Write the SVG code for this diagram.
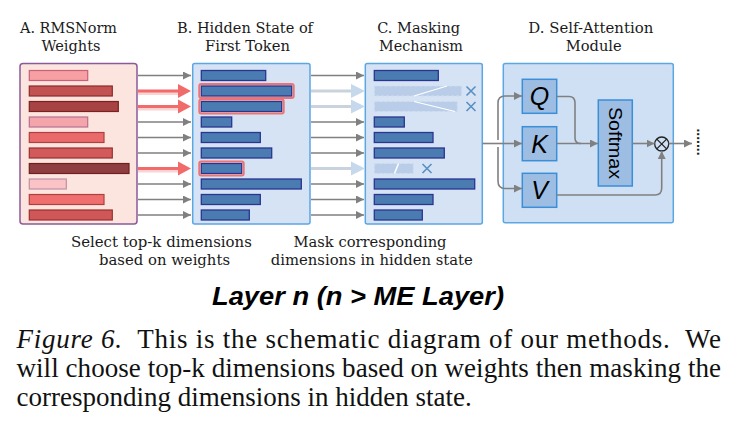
<svg xmlns="http://www.w3.org/2000/svg" width="735" height="430" viewBox="0 0 735 430">
<defs>
<style>
.hd{font-family:"DejaVu Serif","Liberation Serif",serif;font-size:15px;fill:#1a1a1a;text-anchor:middle}
.lb{font-family:"DejaVu Serif","Liberation Serif",serif;font-size:14px;fill:#1a1a1a;text-anchor:middle}
.cap{font-family:"Liberation Serif","Times New Roman",serif;font-size:27px;fill:#111}
.panel{fill:#d5e3f4;stroke:#5ba7e3;stroke-width:1.5}
.bb{fill:#4a7cb2;stroke:#2b3591;stroke-width:1.3}
.hl{fill:none;stroke:#f07272;stroke-width:2}
.ga{stroke:#808080;stroke-width:1.6;fill:none}
.ra{stroke:#f26b6b;stroke-width:3;fill:none}
.rs{stroke:#fbd3d3;stroke-width:4;fill:none}
.fa{stroke:#c9d3de;stroke-width:3;fill:none}
.mk{fill:#b9cde8;stroke:#d2def0;stroke-width:1;stroke-dasharray:3 2}
.x{stroke:#5b8fc2;stroke-width:1.6;fill:none}
.qkv{fill:#9dbde2;stroke:#3a8fd8;stroke-width:1.5}
.lt{font-family:"Liberation Sans",Arial,sans-serif;font-style:italic;font-size:25px;fill:#000;text-anchor:middle}
</style>
<marker id="ah" markerWidth="8" markerHeight="8" viewBox="0 0 8 8" refX="8" refY="4" orient="auto" markerUnits="userSpaceOnUse">
<path d="M0,0 L8,4 L0,8 z" fill="#808080"/>
</marker>
</defs>

<!-- headers -->
<g id="headers">
<text class="hd" x="68.5" y="33" textLength="97" lengthAdjust="spacingAndGlyphs">A. RMSNorm</text>
<text class="hd" x="71" y="50.5" textLength="59" lengthAdjust="spacingAndGlyphs">Weights</text>
<text class="hd" x="245" y="33" textLength="136" lengthAdjust="spacingAndGlyphs">B. Hidden State of</text>
<text class="hd" x="247.5" y="50.5" textLength="85" lengthAdjust="spacingAndGlyphs">First Token</text>
<text class="hd" x="418.7" y="33" textLength="83" lengthAdjust="spacingAndGlyphs">C. Masking</text>
<text class="hd" x="421" y="50.5" textLength="84" lengthAdjust="spacingAndGlyphs">Mechanism</text>
<text class="hd" x="590.8" y="33" textLength="125" lengthAdjust="spacingAndGlyphs">D. Self-Attention</text>
<text class="hd" x="593.7" y="50.5" textLength="56" lengthAdjust="spacingAndGlyphs">Module</text>
</g>

<!-- Panel A -->
<g id="panelA">
<rect x="20" y="63.5" width="117" height="160.5" rx="3" fill="#fbe5de" stroke="#8b5a9b" stroke-width="1.5"/>
<rect x="29.3" y="70.5" width="58.4" height="10" fill="#f6a0a4" stroke="#c8607a" stroke-width="1.2"/>
<rect x="29.3" y="86" width="83" height="10" fill="#c25353" stroke="#8e2a2a" stroke-width="1.2"/>
<rect x="29.3" y="101.5" width="89" height="10" fill="#a84343" stroke="#7a2020" stroke-width="1.2"/>
<rect x="29.3" y="117" width="58.4" height="10" fill="#f4a5ab" stroke="#b87090" stroke-width="1.2"/>
<rect x="29.3" y="132.5" width="74.7" height="10" fill="#e96a6a" stroke="#b04040" stroke-width="1.2"/>
<rect x="29.3" y="148" width="83" height="10" fill="#d25a5a" stroke="#9a3030" stroke-width="1.2"/>
<rect x="29.3" y="163.5" width="99.7" height="10" fill="#8e3e40" stroke="#6e2020" stroke-width="1.2"/>
<rect x="29.3" y="179" width="37" height="10" fill="#fbc3c6" stroke="#c090a8" stroke-width="1.2"/>
<rect x="29.3" y="194.5" width="74.7" height="10" fill="#ef6e6e" stroke="#b04040" stroke-width="1.2"/>
<rect x="29.3" y="210" width="83" height="10" fill="#cf5757" stroke="#9a3030" stroke-width="1.2"/>
</g>

<!-- Panel B -->
<g id="panelB">
<rect class="panel" x="192.7" y="63.5" width="117.3" height="160.5" rx="2"/>
<rect class="bb" x="201.3" y="70.5" width="64.4" height="10"/>
<rect class="bb" x="201.3" y="86" width="90.4" height="10"/>
<rect class="hl" x="199.3" y="84" width="94.4" height="14" rx="2"/>
<rect class="bb" x="201.3" y="101.5" width="80.4" height="10"/>
<rect class="hl" x="199.3" y="99.5" width="84.4" height="14" rx="2"/>
<rect class="bb" x="201.3" y="117" width="30.4" height="10"/>
<rect class="bb" x="201.3" y="132.5" width="59" height="10"/>
<rect class="bb" x="201.3" y="148" width="70.4" height="10"/>
<rect class="bb" x="201.3" y="163.5" width="40.4" height="10"/>
<rect class="hl" x="199.3" y="161.5" width="44.4" height="14" rx="2"/>
<rect class="bb" x="201.3" y="179" width="100" height="10"/>
<rect class="bb" x="201.3" y="194.5" width="59" height="10"/>
<rect class="bb" x="201.3" y="210" width="48" height="10"/>
</g>

<!-- Panel C -->
<g id="panelC">
<rect class="panel" x="365.3" y="63.5" width="117" height="160.5" rx="2"/>
<rect class="bb" x="374.3" y="70.5" width="64" height="10"/>
<rect class="mk" x="374.3" y="86" width="87.4" height="10"/>
<path d="M414,96 L447,86" stroke="#ffffff" stroke-width="1.2"/>
<rect class="mk" x="374.3" y="101.5" width="83" height="10"/>
<path d="M414,101.5 L455,111.5" stroke="#ffffff" stroke-width="1.2"/>
<rect class="bb" x="374.3" y="117" width="30" height="10"/>
<rect class="bb" x="374.3" y="132.5" width="58.7" height="10"/>
<rect class="bb" x="374.3" y="148" width="70" height="10"/>
<rect class="mk" x="374.3" y="163.5" width="39" height="10"/>
<path d="M394.5,173.5 L398.5,163.5" stroke="#ffffff" stroke-width="1.5"/>
<rect class="bb" x="374.3" y="179" width="100.4" height="10"/>
<rect class="bb" x="374.3" y="194.5" width="58.7" height="10"/>
<rect class="bb" x="374.3" y="210" width="48" height="10"/>
<path class="x" d="M466.5,86.5 L475.5,95.5 M475.5,86.5 L466.5,95.5"/>
<path class="x" d="M466.5,102 L475.5,111 M475.5,102 L466.5,111"/>
<path class="x" d="M422.5,164 L431.5,173 M431.5,164 L422.5,173"/>
</g>

<!-- Panel D -->
<g id="panelD">
<rect x="503.3" y="63.5" width="170" height="159.2" rx="2" fill="#cfe0f5" stroke="#5ba7e3" stroke-width="1.5"/>
</g>
<g id="Q">
<rect class="qkv" x="522.3" y="79.3" width="34.4" height="34"/>
<text class="lt" x="539.5" y="105">Q</text>
</g>
<g id="K">
<rect class="qkv" x="522.3" y="126.7" width="34.4" height="34"/>
<text class="lt" x="539.5" y="152.5">K</text>
</g>
<g id="V">
<rect class="qkv" x="522.3" y="173.3" width="34.4" height="34"/>
<text class="lt" x="539.5" y="199">V</text>
</g>
<g id="softmax">
<rect class="qkv" x="598.3" y="100" width="34" height="86"/>
<text transform="translate(609,143) rotate(90)" font-family="Liberation Sans, Arial, sans-serif" font-size="19" fill="#000" text-anchor="middle" textLength="72" lengthAdjust="spacingAndGlyphs">Softmax</text>
</g>
<g id="otimes">
<circle cx="661.7" cy="144" r="7" fill="none" stroke="#222" stroke-width="1.3"/>
<path d="M656.8,139.1 L666.6,148.9 M666.6,139.1 L656.8,148.9" stroke="#222" stroke-width="1.3"/>
</g>
<g id="ellipsis">
<text transform="translate(697,142) rotate(90)" font-family="Liberation Sans, Arial, sans-serif" font-size="14" font-weight="bold" fill="#222" text-anchor="middle">.......</text>
</g>

<!-- connectors -->
<g id="connectors">
<path class="ga" marker-end="url(#ah)" d="M138,75.5 H191"/>
<path class="ga" marker-end="url(#ah)" d="M138,122 H191"/>
<path class="ga" marker-end="url(#ah)" d="M138,137.5 H191"/>
<path class="ga" marker-end="url(#ah)" d="M138,153 H191"/>
<path class="ga" marker-end="url(#ah)" d="M138,184 H191"/>
<path class="ga" marker-end="url(#ah)" d="M138,199.5 H191"/>
<path class="ga" marker-end="url(#ah)" d="M138,215 H191"/>
<path class="rs" d="M138,93 H180"/>
<path class="rs" d="M138,108.5 H180"/>
<path class="rs" d="M138,170.5 H180"/>
<path class="ra" d="M138,91 H179"/>
<path class="ra" d="M138,106.5 H179"/>
<path class="ra" d="M138,168.5 H179"/>
<path d="M178,84 L191,91 L178,98 z" fill="#f26b6b"/>
<path d="M178,99.5 L191,106.5 L178,113.5 z" fill="#f26b6b"/>
<path d="M178,161.5 L191,168.5 L178,175.5 z" fill="#f26b6b"/>
<path class="ga" marker-end="url(#ah)" d="M311,75.5 H364"/>
<path class="ga" marker-end="url(#ah)" d="M311,122 H364"/>
<path class="ga" marker-end="url(#ah)" d="M311,137.5 H364"/>
<path class="ga" marker-end="url(#ah)" d="M311,153 H364"/>
<path class="ga" marker-end="url(#ah)" d="M311,184 H364"/>
<path class="ga" marker-end="url(#ah)" d="M311,199.5 H364"/>
<path class="ga" marker-end="url(#ah)" d="M311,215 H364"/>
<path class="fa" d="M311,91 H353"/>
<path class="fa" d="M311,106.5 H353"/>
<path class="fa" d="M311,168.5 H353"/>
<path d="M351,84 L365,91 L351,98 z" fill="#c6d9ec"/>
<path d="M351,99.5 L365,106.5 L351,113.5 z" fill="#c6d9ec"/>
<path d="M351,161.5 L365,168.5 L351,175.5 z" fill="#c6d9ec"/>
<path class="ga" d="M482.5,143.5 H498"/>
<path class="ga" marker-end="url(#ah)" d="M498,140 V103 Q498,96 505,96 H522"/>
<path class="ga" marker-end="url(#ah)" d="M498,143.5 H522"/>
<path class="ga" marker-end="url(#ah)" d="M498,147 V181 Q498,188.5 505,188.5 H522"/>
<path class="ga" d="M556.7,96.5 H569 Q575,96.5 575,103 V138 Q575,143.5 581,143.5"/>
<path class="ga" marker-end="url(#ah)" d="M556.7,143.5 H598"/>
<path class="ga" marker-end="url(#ah)" d="M632.3,143.5 H654.5"/>
<path class="ga" marker-end="url(#ah)" d="M556.7,195 H655 Q661.7,195 661.7,188 V151"/>
<path class="ga" marker-end="url(#ah)" d="M668.7,143.5 H692"/>
</g>

<!-- bottom labels -->
<g id="labels">
<text class="lb" x="161.4" y="247" textLength="181" lengthAdjust="spacingAndGlyphs">Select top-k dimensions</text>
<text class="lb" x="164.5" y="265" textLength="131" lengthAdjust="spacingAndGlyphs">based on weights</text>
<text class="lb" x="370" y="247" textLength="153" lengthAdjust="spacingAndGlyphs">Mask corresponding</text>
<text class="lb" x="371.8" y="265" textLength="202" lengthAdjust="spacingAndGlyphs">dimensions in hidden state</text>
<text x="358" y="305" font-family="Liberation Sans, Arial, sans-serif" font-size="25" font-weight="bold" font-style="italic" fill="#000" text-anchor="middle" textLength="292" lengthAdjust="spacingAndGlyphs">Layer n (n &gt; ME Layer)</text>
</g>

<!-- caption -->
<g id="caption">
<text class="cap" x="16.5" y="348.3" textLength="704.5" lengthAdjust="spacing" xml:space="preserve"><tspan font-style="italic">Figure 6.</tspan>  This is the schematic diagram of our methods.  We</text>
<text class="cap" x="16.5" y="376.7" textLength="704.5" lengthAdjust="spacing">will choose top-k dimensions based on weights then masking the</text>
<text class="cap" x="16.5" y="405.5">corresponding dimensions in hidden state.</text>
</g>
</svg>
